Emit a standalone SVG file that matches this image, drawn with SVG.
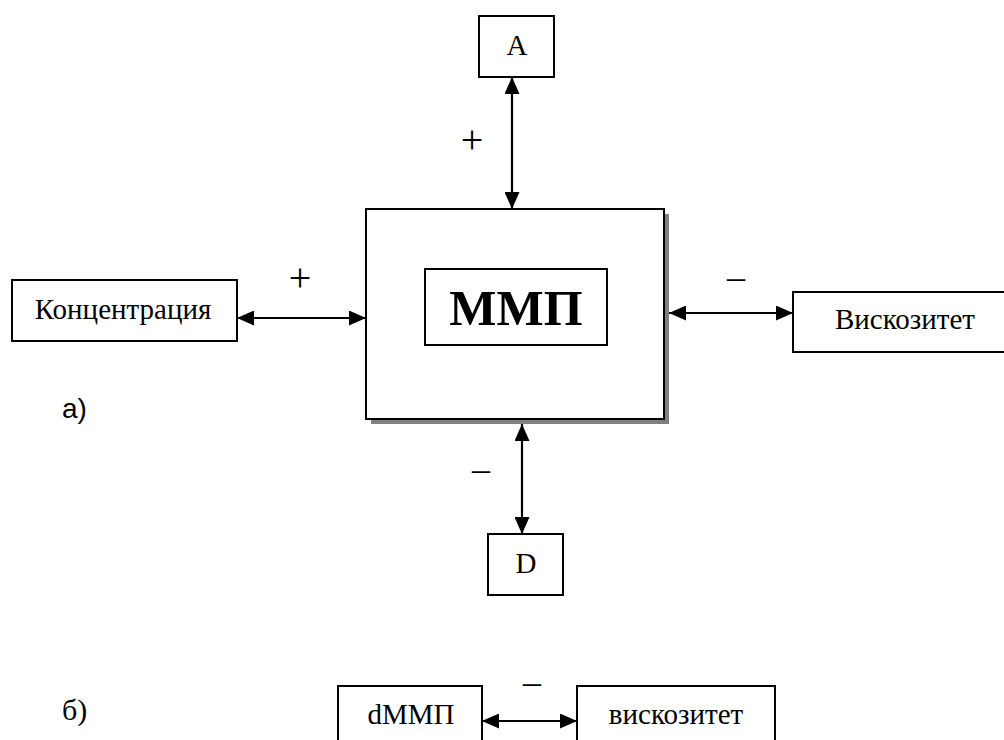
<svg xmlns="http://www.w3.org/2000/svg" width="1004" height="740" viewBox="0 0 1004 740">
  <style>
    .box { fill: #fff; stroke: #000; stroke-width: 2; }
    .shadow { fill: #808080; }
    .lbl { font-family: "Liberation Serif", "Times New Roman", serif; font-size: 29px; fill: #000; text-anchor: middle; }
    .big { font-family: "Liberation Serif", "Times New Roman", serif; font-size: 50px; font-weight: bold; fill: #000; text-anchor: middle; }
    .sign { font-family: "Liberation Serif", "Times New Roman", serif; font-size: 36px; fill: #000; text-anchor: middle; }
    .plus { font-family: "Liberation Serif", "Times New Roman", serif; font-size: 40px; fill: #000; text-anchor: middle; }
    .part { font-family: "Liberation Sans", Arial, sans-serif; font-size: 28px; fill: #000; }
    .part-serif { font-family: "Liberation Serif", "Times New Roman", serif; font-size: 30px; fill: #000; }
    .link { stroke: #000; stroke-width: 2.2; fill: none; marker-start: url(#head); marker-end: url(#head); }
  </style>
  <defs>
    <marker id="head" markerWidth="17" markerHeight="15" refX="17" refY="7.5" orient="auto-start-reverse" markerUnits="userSpaceOnUse">
      <path d="M0,0 L17,7.5 L0,15 Z" fill="#000"/>
    </marker>
  </defs>
  <rect width="1004" height="740" fill="#fff"/>

  <!-- central block with drop shadow -->
  <g id="mmp">
    <rect class="shadow" x="371" y="214" width="298" height="210"/>
    <rect class="box" x="366" y="209" width="298" height="210"/>
    <rect class="box" x="425" y="269" width="182" height="76"/>
    <text class="big" x="516" y="325">ММП</text>
  </g>

  <g id="node-a">
    <rect class="box" x="479" y="16" width="75" height="61"/>
    <text class="lbl" x="517" y="55">A</text>
  </g>

  <g id="node-d">
    <rect class="box" x="488" y="534" width="75" height="61"/>
    <text class="lbl" x="526" y="573">D</text>
  </g>

  <g id="node-concentration">
    <rect class="box" x="12" y="280" width="225" height="61"/>
    <text class="lbl" x="123" y="319">Концентрация</text>
  </g>

  <g id="node-viscosity">
    <rect class="box" x="793" y="292" width="212" height="60"/>
    <text class="lbl" x="905" y="329">Вискозитет</text>
  </g>

  <g id="node-dmmp">
    <rect class="box" x="338" y="686" width="144" height="80"/>
    <text class="lbl" x="411" y="724">dММП</text>
  </g>

  <g id="node-viscosity-b">
    <rect class="box" x="577" y="686" width="198" height="80"/>
    <text class="lbl" x="676" y="724">вискозитет</text>
  </g>

  <g id="connectors">
    <line class="link" x1="512" y1="77" x2="512" y2="209"/>
    <line class="link" x1="522" y1="424" x2="522" y2="534"/>
    <line class="link" x1="237" y1="318" x2="366" y2="318"/>
    <line class="link" x1="669" y1="313" x2="793" y2="313"/>
    <line class="link" x1="482" y1="721" x2="577" y2="721"/>
  </g>

  <g id="signs">
    <text class="plus" x="472" y="153">+</text>
    <text class="plus" x="300" y="291">+</text>
    <text class="sign" x="736" y="289">–</text>
    <text class="sign" x="481" y="481">–</text>
    <text class="sign" x="532" y="694">–</text>
  </g>

  <g id="parts">
    <text class="part" x="62" y="418">а)</text>
    <text class="part-serif" x="62" y="720">б)</text>
  </g>
</svg>
